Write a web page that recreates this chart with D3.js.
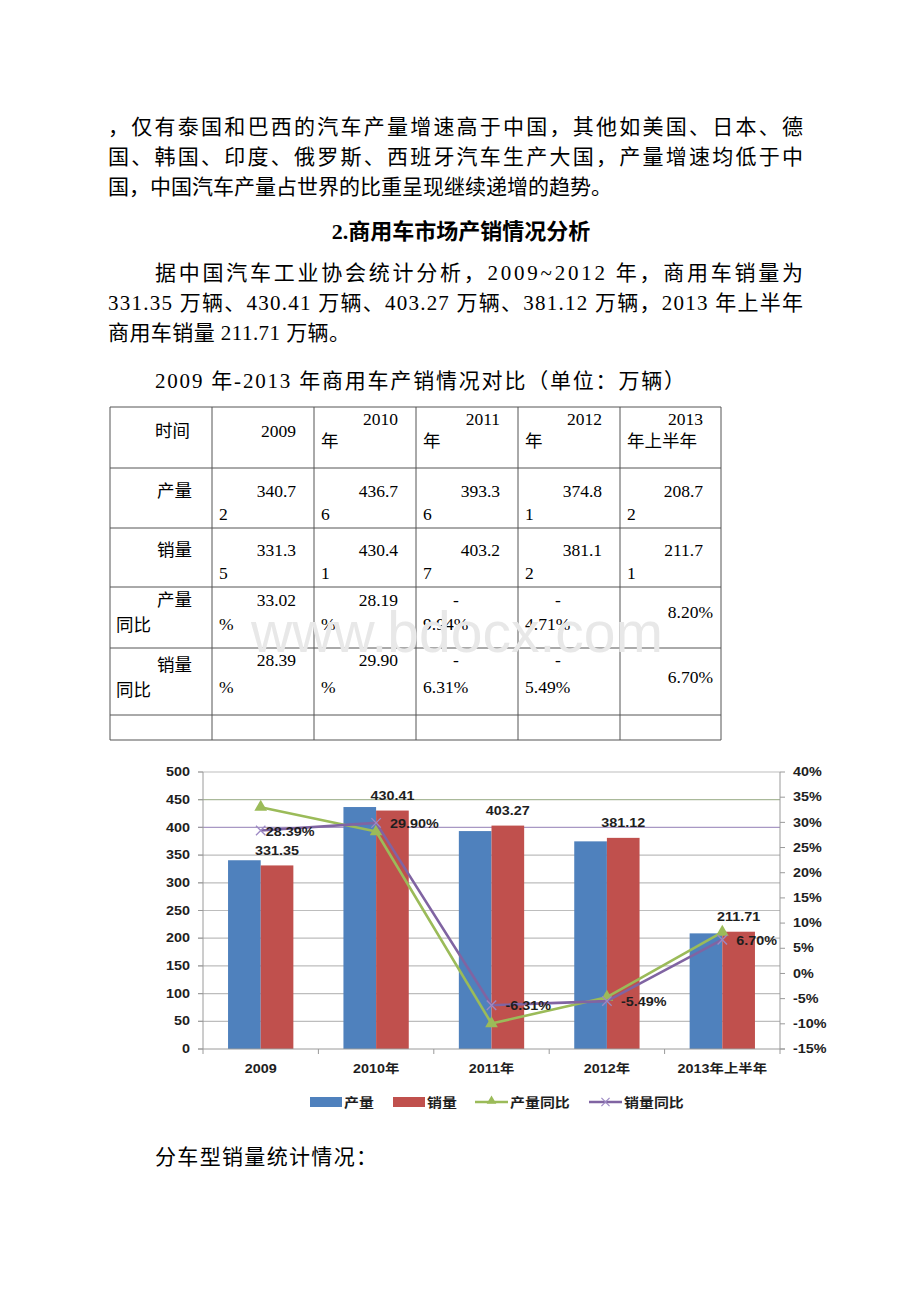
<!DOCTYPE html>
<html><head><meta charset="utf-8">
<script src="https://cdn.jsdelivr.net/npm/d3@7"></script>
<style>
html,body{margin:0;padding:0;background:#fff;}
svg{display:block;}
</style></head>
<body>
<svg id="page" width="920" height="1302"></svg>
<script>
// ---------- chart data ----------
const categories = ['2009', '2010年', '2011年', '2012年', '2013年上半年'];
const production = [340.72, 436.76, 393.36, 374.81, 208.72];
const sales = [331.35, 430.41, 403.27, 381.12, 211.71];
const prodYoY = [33.02, 28.19, -9.94, -4.71, 8.20];
const salesYoY = [28.39, 29.90, -6.31, -5.49, 6.70];
const leftTicks = [0, 50, 100, 150, 200, 250, 300, 350, 400, 450, 500];
const rightTicks = [-15, -10, -5, 0, 5, 10, 15, 20, 25, 30, 35, 40];
const seriesNames = ['产量', '销量', '产量同比', '销量同比'];

// ---------- document text ----------
const para1 = ['，仅有泰国和巴西的汽车产量增速高于中国，其他如美国、日本、德',
               '国、韩国、印度、俄罗斯、西班牙汽车生产大国，产量增速均低于中',
               '国，中国汽车产量占世界的比重呈现继续递增的趋势。'];
const title = '2.商用车市场产销情况分析';
const para2 = ['据中国汽车工业协会统计分析，2009~2012 年，商用车销量为',
               '331.35 万辆、430.41 万辆、403.27 万辆、381.12 万辆，2013 年上半年',
               '商用车销量 211.71 万辆。'];
const caption = '2009 年-2013 年商用车产销情况对比（单位：万辆）';
const afterText = '分车型销量统计情况：';
const rowHeads = ['时间', '产量', '销量', '产量同比', '销量同比', ''];
const tableYears = ['2009', '2010年', '2011年', '2012年', '2013年上半年'];

const svg = d3.select('#page');
const serif = '"Liberation Serif","Times New Roman","Noto Sans CJK SC",serif';
const cfont = '"Liberation Sans","Noto Sans CJK SC",sans-serif';

// ---------- paragraphs ----------
function bodyLine(str, x, y, len, opts = {}) {
  const t = svg.append('text').attr('x', x).attr('y', y)
    .attr('dominant-baseline', 'central')
    .attr('font-family', serif).attr('font-size', opts.size || 21)
    .attr('font-weight', opts.weight || 'normal').attr('fill', '#000')
    .text(str);
  if (len) t.attr('textLength', len).attr('lengthAdjust', 'spacing');
  if (opts.anchor) t.attr('text-anchor', opts.anchor);
  return t;
}
bodyLine(para1[0], 108, 127, 695);
bodyLine(para1[1], 108, 157, 695);
bodyLine(para1[2], 108, 187);
bodyLine(title, 461, 231, null, {weight: 'bold', anchor: 'middle', size: 22});
bodyLine(para2[0], 155, 273, 648);
bodyLine(para2[1], 108, 303, 695);
bodyLine(para2[2], 108, 333, 242);
bodyLine(caption, 155, 381, 530);
bodyLine(afterText, 155, 1157, 222);

// ---------- table ----------
const colX = [110, 212, 314, 416, 518, 620, 721];
const rowY = [407, 468, 528, 587, 648, 715, 740];
const tg = svg.append('g');
colX.forEach(x => tg.append('line').attr('x1', x).attr('x2', x).attr('y1', rowY[0]).attr('y2', rowY[6])
  .attr('stroke', '#555').attr('stroke-width', 1));
rowY.forEach(y => tg.append('line').attr('x1', colX[0]).attr('x2', colX[6]).attr('y1', y).attr('y2', y)
  .attr('stroke', '#555').attr('stroke-width', 1));

// watermark
svg.append('text').attr('x', 457).attr('y', 632).attr('dominant-baseline', 'central')
  .attr('text-anchor', 'middle').attr('font-family', '"Liberation Sans",sans-serif')
  .attr('font-size', 57).attr('fill', '#e8e8e8').text('www.bdocx.com');

function cell(str, x, y, anchor) {
  tg.append('text').attr('x', x).attr('y', y).attr('dominant-baseline', 'central')
    .attr('text-anchor', anchor || 'start').attr('font-family', serif).attr('font-size', 17.5)
    .attr('fill', '#000').text(str);
}
// header row
cell(rowHeads[0], 155, 431);
tableYears.forEach((yr, i) => {
  const r = colX[i + 2] - 18, l = colX[i + 1] + 7;
  const num = yr.slice(0, 4), rest = yr.slice(4);
  if (!rest) cell(num, r, 431, 'end');
  else { cell(num, r, 419, 'end'); cell(rest, l, 441); }
});
// value rows
function numRow(vals, yA, yB) {
  vals.forEach((v, i) => {
    const s = v.toFixed(2);
    const r = colX[i + 2] - 18, l = colX[i + 1] + 7;
    cell(s.slice(0, 5), r, yA, 'end');
    cell(s.slice(5), l, yB);
  });
}
cell(rowHeads[1], 192, 491, 'end');
numRow(production, 491, 514);
cell(rowHeads[2], 192, 550, 'end');
numRow(sales, 550, 573);
function pctRow(vals, yA, yB, yMid) {
  vals.forEach((v, i) => {
    const s = v.toFixed(2) + '%';
    const r = colX[i + 2] - 8, l = colX[i + 1] + 7;
    if (i === vals.length - 1) cell(s, r, yMid, 'end');
    else if (v < 0) { cell('-', colX[i + 1] + 37, yA); cell(s.slice(1), l, yB); }
    else { cell(s.slice(0, 5), colX[i + 2] - 18, yA, 'end'); cell('%', l, yB); }
  });
}
cell('产量', 192, 600, 'end'); cell('同比', 116, 625);
pctRow(prodYoY, 600, 624, 612);
cell('销量', 192, 665, 'end'); cell('同比', 116, 690);
pctRow(salesYoY, 660, 687, 677);

// ---------- chart ----------
const C = {left: 203, right: 780, top: 772, bottom: 1049};
const x0 = d3.scaleBand().domain(categories).range([C.left, C.right]).paddingInner(0).paddingOuter(0);
const yL = d3.scaleLinear().domain([0, 500]).range([C.bottom, C.top]);
const yR = d3.scaleLinear().domain([-15, 40]).range([C.bottom, C.top]);
const bw = x0.bandwidth() * 0.283;
const cx = c => x0(c) + x0.bandwidth() / 2;
const colors = {prod: '#4f81bd', sales: '#c0504d', pyoy: '#9bbb59', syoy: '#8064a2'};
const ch = svg.append('g');
const SX = 1.15;

function ctext(g, str, x, y, anchor, size) {
  return g.append('text').attr('transform', `translate(${x},${y}) scale(${SX},1)`)
    .attr('dominant-baseline', 'central').attr('text-anchor', anchor || 'middle')
    .attr('font-family', cfont).attr('font-weight', 'bold').attr('font-size', size || 12.5)
    .attr('fill', '#1e1e1e').text(str);
}

// gridlines
const gridColor = v => v === 450 ? '#aab99a' : v === 400 ? '#a898c4' : '#bdbdbd';
ch.selectAll('.grid').data(leftTicks.filter(v => v > 0)).enter().append('line')
  .attr('x1', C.left - 5).attr('x2', C.right).attr('y1', d => yL(d)).attr('y2', d => yL(d))
  .attr('stroke', d => gridColor(d)).attr('stroke-width', 1.2);

// bars
categories.forEach((c, i) => {
  ch.append('rect').attr('x', cx(c) - bw).attr('width', bw)
    .attr('y', yL(production[i])).attr('height', yL(0) - yL(production[i])).attr('fill', colors.prod);
  ch.append('rect').attr('x', cx(c)).attr('width', bw)
    .attr('y', yL(sales[i])).attr('height', yL(0) - yL(sales[i])).attr('fill', colors.sales);
});

// axes lines
const axisColor = '#9a9a9a';
ch.append('line').attr('x1', C.left).attr('x2', C.left).attr('y1', C.top).attr('y2', C.bottom).attr('stroke', axisColor);
ch.append('line').attr('x1', C.right).attr('x2', C.right).attr('y1', C.top).attr('y2', C.bottom).attr('stroke', axisColor);
ch.append('line').attr('x1', C.left - 5).attr('x2', C.right + 5).attr('y1', C.bottom).attr('y2', C.bottom).attr('stroke', axisColor);
// x ticks
const bounds = categories.map(c => x0(c)).concat([C.right]);
bounds.forEach(b => ch.append('line').attr('x1', b).attr('x2', b).attr('y1', C.bottom).attr('y2', C.bottom + 5).attr('stroke', axisColor));
// left ticks and labels
leftTicks.forEach(v => {
  ch.append('line').attr('x1', C.left - 5).attr('x2', C.left).attr('y1', yL(v)).attr('y2', yL(v)).attr('stroke', axisColor);
  ctext(ch, String(v), 190, yL(v), 'end');
});
// right ticks and labels
rightTicks.forEach(v => {
  ch.append('line').attr('x1', C.right).attr('x2', C.right + 5).attr('y1', yR(v)).attr('y2', yR(v)).attr('stroke', axisColor);
  ctext(ch, v + '%', 793, yR(v), 'start');
});
// category labels
categories.forEach(c => ctext(ch, c, cx(c), 1069, 'middle'));

// lines
const lineGen = d3.line().x(d => d.x).y(d => d.y);
const pPts = categories.map((c, i) => ({x: cx(c), y: yR(prodYoY[i])}));
const sPts = categories.map((c, i) => ({x: cx(c), y: yR(salesYoY[i])}));
ch.append('path').attr('d', lineGen(pPts)).attr('fill', 'none').attr('stroke', colors.pyoy).attr('stroke-width', 2.6).attr('stroke-linejoin', 'round');
const tri = d3.symbol().type(d3.symbolTriangle).size(70);
pPts.forEach(p => ch.append('path').attr('d', tri()).attr('transform', `translate(${p.x},${p.y})`).attr('fill', colors.pyoy));
ch.append('path').attr('d', lineGen(sPts)).attr('fill', 'none').attr('stroke', colors.syoy).attr('stroke-width', 2.6).attr('stroke-linejoin', 'round');
const xs = d3.symbol().type(d3.symbolX).size(60);
sPts.forEach(p => ch.append('path').attr('d', xs()).attr('transform', `translate(${p.x},${p.y})`).attr('fill', 'none').attr('stroke', '#9d89c4').attr('stroke-width', 1.3));

// data labels
categories.forEach((c, i) => {
  ctext(ch, sales[i].toFixed(2), cx(c) + bw / 2, yL(sales[i]) - 15, 'middle');
  ctext(ch, salesYoY[i].toFixed(2) + '%', cx(c) + (i === 0 ? 5 : 14), yR(salesYoY[i]) + 1, 'start');
});

// legend
const lg = ch.append('g');
const lgY = 1102;
lg.append('rect').attr('x', 310).attr('y', lgY - 5).attr('width', 32).attr('height', 10).attr('fill', colors.prod);
ctext(lg, seriesNames[0], 344, lgY, 'start', 13);
lg.append('rect').attr('x', 393).attr('y', lgY - 5).attr('width', 32).attr('height', 10).attr('fill', colors.sales);
ctext(lg, seriesNames[1], 427, lgY, 'start', 13);
lg.append('line').attr('x1', 475).attr('x2', 508).attr('y1', lgY).attr('y2', lgY).attr('stroke', colors.pyoy).attr('stroke-width', 2.4);
lg.append('path').attr('d', d3.symbol().type(d3.symbolTriangle).size(40)()).attr('transform', `translate(491.5,${lgY - 1})`).attr('fill', colors.pyoy);
ctext(lg, seriesNames[2], 510, lgY, 'start', 13);
lg.append('line').attr('x1', 589).attr('x2', 622).attr('y1', lgY).attr('y2', lgY).attr('stroke', colors.syoy).attr('stroke-width', 2.4);
lg.append('path').attr('d', d3.symbol().type(d3.symbolX).size(45)()).attr('transform', `translate(605.5,${lgY})`).attr('fill', 'none').attr('stroke', '#9d89c4').attr('stroke-width', 1.2);
ctext(lg, seriesNames[3], 624, lgY, 'start', 13);
</script>
</body></html>
